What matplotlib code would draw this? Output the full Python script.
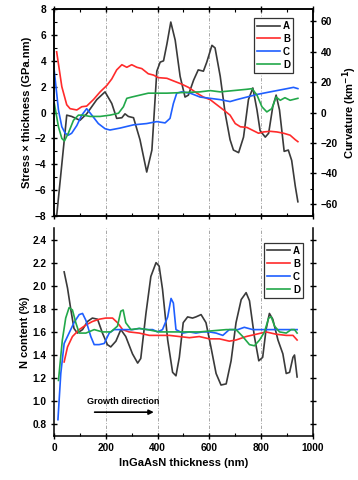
import matplotlib
matplotlib.use("Agg")
import matplotlib.pyplot as plt
from matplotlib.ticker import MultipleLocator

plt.rcParams['font.family'] = ['Liberation Sans', 'DejaVu Sans']
plt.rcParams['font.weight'] = 'bold'

# ---- Top panel: stress x thickness (GPa.nm) ----
topA_x = [10, 30, 49, 68, 100, 126, 165, 197, 223, 242, 262, 274, 287, 307, 332, 358, 378, 397, 410, 423, 436, 451, 468, 487, 506, 519, 539, 557, 577, 590, 610, 622, 642, 661, 680, 693, 713, 732, 751, 768, 784, 796, 816, 829, 845, 858, 871, 889, 905, 918, 932, 942]
topA_y = [-8.0, -4.0, -0.2, -0.3, -0.6, -0.1, 1.0, 1.6, 0.7, -0.45, -0.4, -0.1, -0.3, -0.4, -2.1, -4.6, -2.9, 3.2, 3.9, 4.0, 5.3, 7.0, 5.6, 2.8, 1.2, 1.35, 2.5, 3.3, 3.2, 3.9, 5.2, 5.0, 2.8, -0.05, -2.1, -2.9, -3.1, -1.9, 1.0, 1.9, 0.2, -1.4, -1.9, -1.6, 0.45, 1.35, 0.2, -3.0, -2.9, -3.7, -5.7, -6.9]
topB_x = [10, 30, 49, 62, 88, 107, 126, 152, 178, 204, 223, 242, 262, 281, 300, 320, 339, 364, 384, 403, 436, 461, 493, 519, 552, 577, 603, 629, 655, 680, 700, 720, 745, 765, 790, 809, 835, 861, 887, 912, 932, 942]
topB_y = [4.7, 2.0, 0.6, 0.3, 0.2, 0.45, 0.5, 1.0, 1.6, 2.1, 2.6, 3.3, 3.7, 3.5, 3.7, 3.5, 3.4, 3.0, 2.9, 2.7, 2.65, 2.45, 2.2, 1.95, 1.5, 1.2, 1.0, 0.6, 0.2, -0.2, -0.85, -1.1, -1.15, -1.35, -1.6, -1.5, -1.45, -1.5, -1.6, -1.75, -2.1, -2.25]
topC_x = [1, 17, 30, 43, 55, 68, 88, 107, 126, 146, 171, 197, 216, 255, 307, 358, 397, 429, 448, 461, 474, 493, 526, 564, 603, 642, 680, 706, 745, 784, 822, 861, 900, 925, 942]
topC_y = [3.2, 0.2, -1.1, -1.6, -1.75, -1.6, -1.0, -0.2, 0.3, -0.2, -0.85, -1.25, -1.35, -1.2, -0.95, -0.85, -0.7, -0.8, -0.45, 0.7, 1.5, 1.6, 1.5, 1.2, 1.1, 1.0, 0.85, 1.0, 1.2, 1.4, 1.55, 1.7, 1.85, 1.95, 1.85]
topD_x = [1, 17, 30, 40, 55, 75, 94, 113, 139, 178, 216, 249, 268, 281, 300, 332, 364, 397, 436, 500, 564, 603, 642, 693, 745, 765, 784, 803, 822, 841, 858, 874, 892, 912, 942]
topD_y = [0.7, -1.1, -2.0, -2.2, -1.6, -0.6, -0.2, -0.2, -0.3, -0.3, -0.2, -0.05, 0.45, 1.1, 1.2, 1.35, 1.5, 1.5, 1.5, 1.55, 1.6, 1.7, 1.6, 1.7, 1.8, 1.85, 1.35, 0.45, 0.05, 0.3, 1.2, 0.95, 1.15, 0.95, 1.1]

# ---- Bottom panel: N content (%) ----
botA_x = [39, 52, 65, 77, 90, 110, 129, 148, 168, 187, 206, 219, 239, 258, 277, 303, 323, 335, 355, 374, 394, 406, 419, 439, 458, 471, 484, 499, 516, 535, 548, 568, 587, 606, 626, 645, 665, 684, 703, 723, 742, 755, 774, 791, 806, 819, 832, 845, 865, 884, 897, 910, 923, 929, 939]
botA_y = [2.12, 1.98, 1.79, 1.63, 1.59, 1.62, 1.69, 1.72, 1.71, 1.59, 1.49, 1.47, 1.52, 1.62, 1.56, 1.41, 1.33, 1.37, 1.76, 2.08, 2.2, 2.17, 1.97, 1.53, 1.25, 1.22, 1.38, 1.68, 1.73, 1.72, 1.73, 1.75, 1.68, 1.47, 1.24, 1.14, 1.15, 1.35, 1.68, 1.88, 1.94, 1.87, 1.56, 1.35, 1.38, 1.62, 1.76, 1.71, 1.53, 1.41, 1.24, 1.25, 1.38, 1.40, 1.21]
botB_x = [39, 52, 71, 97, 123, 148, 174, 200, 226, 245, 265, 290, 329, 368, 406, 445, 484, 523, 561, 600, 639, 677, 703, 742, 781, 819, 858, 897, 923, 939]
botB_y = [1.34, 1.47, 1.56, 1.62, 1.66, 1.69, 1.71, 1.72, 1.72, 1.68, 1.62, 1.60, 1.59, 1.57, 1.57, 1.57, 1.56, 1.55, 1.56, 1.54, 1.54, 1.52, 1.53, 1.56, 1.58, 1.60, 1.58, 1.57, 1.57, 1.53]
botC_x = [15, 26, 39, 58, 77, 97, 110, 123, 142, 155, 174, 194, 213, 232, 252, 277, 303, 329, 361, 381, 400, 419, 439, 452, 461, 471, 497, 523, 548, 574, 600, 626, 652, 677, 710, 735, 768, 806, 845, 884, 923, 939]
botC_y = [0.84, 1.24, 1.50, 1.59, 1.68, 1.75, 1.76, 1.70, 1.56, 1.49, 1.49, 1.50, 1.59, 1.62, 1.62, 1.62, 1.62, 1.63, 1.62, 1.62, 1.60, 1.62, 1.73, 1.89, 1.85, 1.62, 1.59, 1.60, 1.59, 1.60, 1.60, 1.59, 1.57, 1.62, 1.62, 1.64, 1.62, 1.62, 1.62, 1.62, 1.62, 1.62]
botD_x = [17, 32, 45, 58, 71, 84, 97, 123, 155, 187, 219, 245, 258, 267, 277, 297, 329, 361, 406, 458, 510, 561, 613, 665, 703, 729, 755, 774, 794, 813, 829, 839, 852, 871, 897, 916, 929, 939]
botD_y = [1.18, 1.53, 1.72, 1.81, 1.79, 1.68, 1.59, 1.59, 1.62, 1.60, 1.60, 1.65, 1.78, 1.79, 1.68, 1.62, 1.63, 1.62, 1.60, 1.60, 1.60, 1.60, 1.61, 1.62, 1.62, 1.56, 1.49, 1.48, 1.53, 1.60, 1.72, 1.73, 1.65, 1.60, 1.59, 1.62, 1.62, 1.59]

labels = ['A', 'B', 'C', 'D']
colors = ['#3a3a3a', '#ff2b2b', '#1f5fff', '#22a84a']

fig = plt.figure(figsize=(3.58, 4.8), dpi=100)
ax1 = fig.add_axes([0.151, 0.55, 0.723, 0.431])
ax2 = fig.add_axes([0.151, 0.092, 0.723, 0.433])

lw = 1.2
top_series = [(topA_x, topA_y), (topB_x, topB_y), (topC_x, topC_y), (topD_x, topD_y)]
bot_series = [(botA_x, botA_y), (botB_x, botB_y), (botC_x, botC_y), (botD_x, botD_y)]

for (x, y), lab, c in zip(top_series, labels, colors):
    ax1.plot(x, y, color=c, lw=lw, label=lab)
for (x, y), lab, c in zip(bot_series, labels, colors):
    ax2.plot(x, y, color=c, lw=lw, label=lab)

for ax in (ax1, ax2):
    ax.set_xlim(0, 1000)
    for gx in (200, 400, 600, 800):
        ax.axvline(gx, color='#999999', lw=0.6, ls=(0, (4, 2, 1, 2)), zorder=0)
    ax.xaxis.set_major_locator(MultipleLocator(200))
    ax.xaxis.set_minor_locator(MultipleLocator(100))
    ax.tick_params(which='major', direction='inout', length=4, width=1, labelsize=7.3)
    ax.tick_params(which='minor', direction='in', length=2, width=0.8)
    for s in ax.spines.values():
        s.set_linewidth(1.1)

ax1.set_ylim(-8, 8)
ax1.yaxis.set_major_locator(MultipleLocator(2))
ax1.yaxis.set_minor_locator(MultipleLocator(1))
ax1.tick_params(axis='x', which='both', top=True, labelbottom=False)
ax1.set_ylabel('Stress × thickness (GPa.nm)', fontsize=8, fontweight='bold', labelpad=2)

ax1r = ax1.twinx()
ax1r.set_ylim(-68, 68)
ax1r.yaxis.set_major_locator(MultipleLocator(20))
ax1r.yaxis.set_minor_locator(MultipleLocator(10))
ax1r.tick_params(which='major', direction='inout', length=4, width=1, labelsize=7.3)
ax1r.tick_params(which='minor', direction='in', length=2, width=0.8)
ax1r.set_ylabel('Curvature (km$^{\\mathbf{-1}}$)', fontsize=8, fontweight='bold', labelpad=2)
for s in ax1r.spines.values():
    s.set_linewidth(1.1)

leg_kw = dict(fontsize=7, handlelength=2.4, handletextpad=0.3, labelspacing=0.3,
              borderpad=0.3, borderaxespad=0.0, fancybox=False, framealpha=1,
              edgecolor='#333333')
leg1 = ax1.legend(loc='upper right', bbox_to_anchor=(0.923, 0.957), **leg_kw)
leg1.get_frame().set_linewidth(0.9)

ax2.set_ylim(0.7, 2.5)
ax2.yaxis.set_major_locator(MultipleLocator(0.2))
ax2.spines['top'].set_visible(False)
ax2.tick_params(axis='y', which='both', right=True)
ax2.set_ylabel('N content (%)', fontsize=8, fontweight='bold', labelpad=2)
ax2.set_xlabel('InGaAsN thickness (nm)', fontsize=8, fontweight='bold', labelpad=3)
leg2 = ax2.legend(loc='upper right', bbox_to_anchor=(0.961, 0.928), **leg_kw)
leg2.get_frame().set_linewidth(0.9)

ax2.text(129, 0.995, 'Growth direction', fontsize=6.5, fontweight='bold', va='center', ha='left')
ax2.annotate('', xy=(396, 0.905), xytext=(146, 0.905),
             arrowprops=dict(arrowstyle='-|>', color='black', lw=1.2, mutation_scale=7))

fig.savefig('out.png', dpi=100)
